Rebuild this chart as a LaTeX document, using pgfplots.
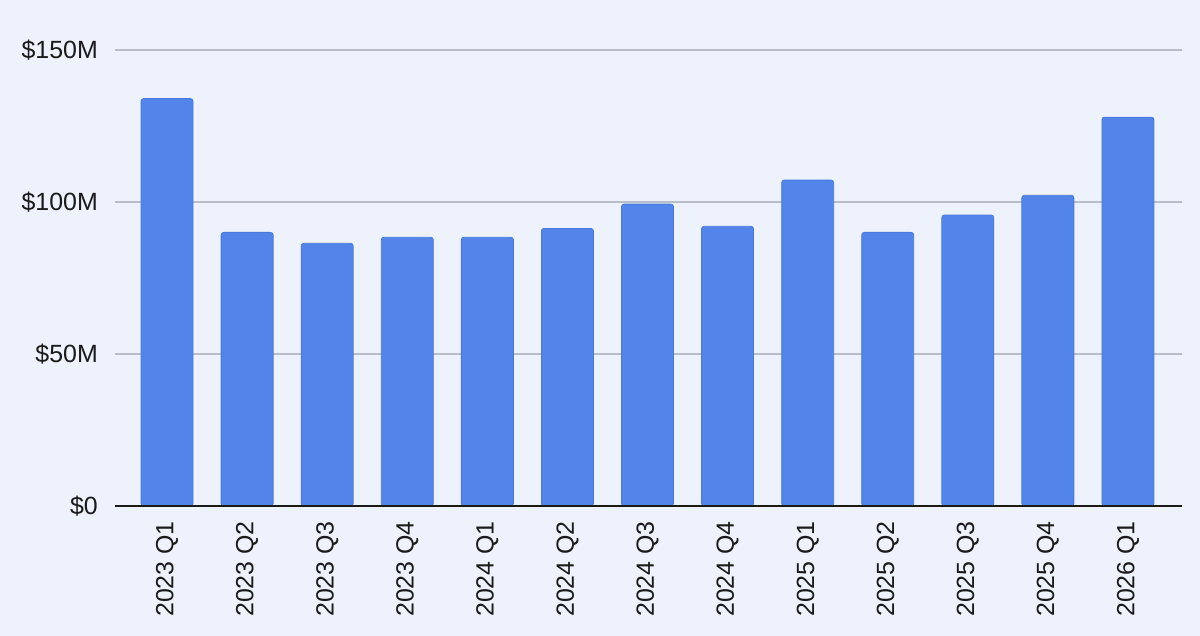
\documentclass[border=0pt]{standalone}
\usepackage{pgfplots}
\pgfplotsset{compat=1.18}
\usepackage{fontspec}
\setmainfont{Liberation Sans}
\definecolor{bg}{HTML}{EEF2FC}
\definecolor{barfill}{HTML}{5384EA}
\definecolor{baredge}{HTML}{4A79DC}
\definecolor{gridc}{HTML}{B9BDC9}
\definecolor{txt}{HTML}{1A1A1A}
\begin{document}
\begin{tikzpicture}[x=1bp,y=1bp]
  \fill[bg] (-115,-130) rectangle (1085,506);
  \begin{axis}[
      at={(0,0)}, anchor=south west,
      scale only axis,
      width=1067bp, height=456bp,
      xmin=-0.65, xmax=12.675,
      ymin=0, ymax=150,
      axis line style={draw=none},
      xtick=data,
      xticklabels={2023 Q1,2023 Q2,2023 Q3,2023 Q4,2024 Q1,2024 Q2,2024 Q3,2024 Q4,2025 Q1,2025 Q2,2025 Q3,2025 Q4,2026 Q1},
      ytick={0,50,100,150},
      yticklabels={\$0,\$50M,\$100M,\$150M},
      major tick length=0pt,
      ymajorgrids=true,
      grid style={gridc, line width=1.5bp},
      tick label style={font=\fontsize{25}{28}\selectfont, text=txt, inner sep=0pt},
      yticklabel style={anchor=east, xshift=-17bp},
      xticklabel style={rotate=90, anchor=east, xshift=-15bp},
      /pgf/number format/assume math mode=true,
      clip=false,
    ]
    % quarterly values, $M
    \addplot[ybar, bar width=52bp, fill=barfill, draw=baredge, line width=0.8bp, rounded corners=2.5bp]
      coordinates {
        (0,134)(1,90)(2,86.4)(3,88.4)(4,88.4)(5,91.3)(6,99.3)
        (7,92)(8,107.2)(9,90)(10,95.7)(11,102.2)(12,127.9)
      };
    \draw[txt, line width=1.5bp] (axis cs:-0.65,0) -- (axis cs:12.675,0);
  \end{axis}
  \pgfresetboundingbox
  \useasboundingbox (-115,-130) rectangle (1085,506);
\end{tikzpicture}
\end{document}
